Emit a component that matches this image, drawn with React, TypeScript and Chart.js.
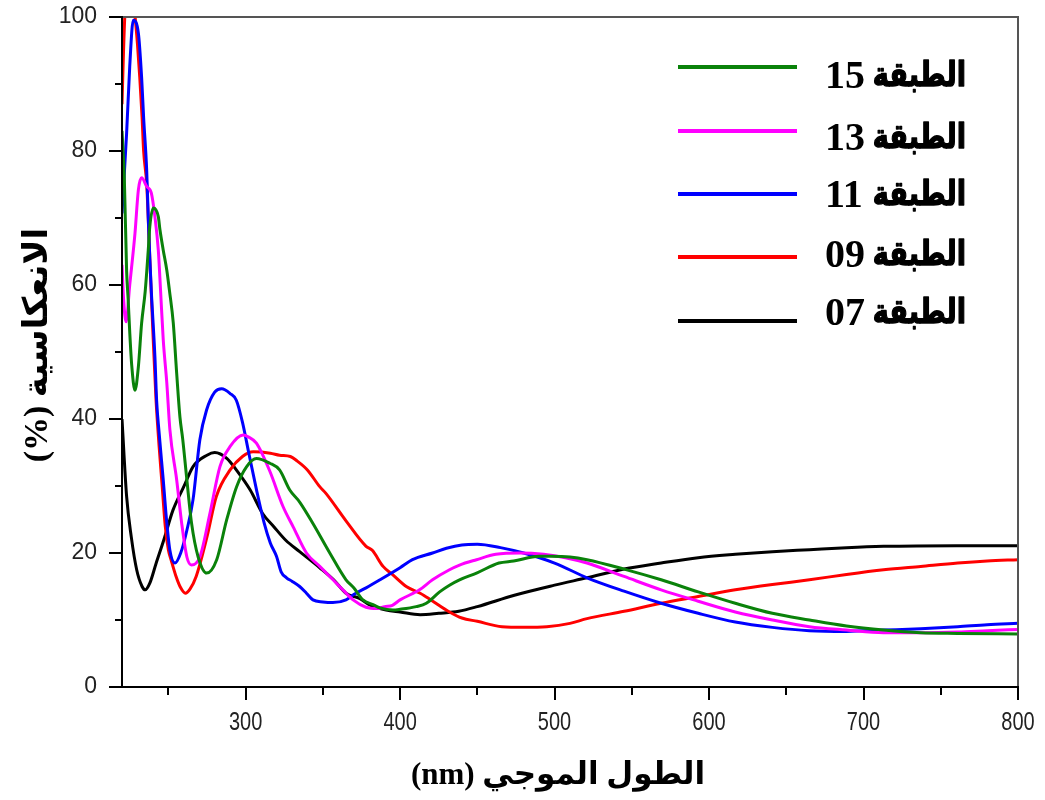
import React, { useEffect, useRef } from 'react';
import { Chart, registerables } from 'chart.js';

Chart.register(...registerables);

// ---------- data ----------
const wl07 = [220, 223, 226, 229.5, 233, 235, 238, 242, 247, 253, 260, 266, 275, 280, 288, 294, 303, 311, 318, 326, 335, 348, 357, 365, 374, 380, 391, 400, 413, 425, 438, 450, 474, 500, 521, 545, 569, 593, 617, 641, 665, 689, 713, 760, 800];
const r07 = [40, 28.4, 22.4, 17.5, 15, 14.5, 15.5, 18.4, 21.9, 26.4, 29.9, 32.9, 34.6, 35, 34.1, 32.4, 29.4, 25.9, 24, 21.9, 20.2, 17.8, 16, 14, 13.2, 12.3, 11.5, 11.2, 10.8, 11, 11.3, 12, 13.7, 15.2, 16.3, 17.6, 18.5, 19.3, 19.8, 20.2, 20.5, 20.8, 21, 21.1, 21.1];

const wl09 = [220, 221, 222, 224, 226, 228, 230, 231.5, 233, 234, 236, 238, 240, 242, 244, 246, 248, 250, 252, 255, 258, 261, 264, 268, 275, 281, 290, 298, 305, 316, 322, 329, 333, 340, 348, 352, 365, 378, 382, 389, 395, 404, 413, 420, 432, 440, 450, 466, 480, 495, 510, 521, 545, 569, 593, 617, 641, 665, 689, 713, 737, 761, 780, 800];
const r09 = [87, 95, 101, 104, 103, 101, 96, 91, 85, 80, 75, 64, 53, 43, 36, 30, 24, 20.5, 18.8, 16.5, 14.8, 14, 14.6, 16.5, 22.4, 28.4, 32.4, 34.4, 35.1, 34.9, 34.6, 34.4, 33.8, 32.4, 29.9, 28.9, 24.8, 21, 20.4, 18, 16.8, 15, 14, 13, 11.2, 10.3, 9.8, 9, 8.9, 9, 9.5, 10.2, 11.3, 12.5, 13.5, 14.5, 15.3, 16, 16.8, 17.5, 18, 18.5, 18.8, 19];

const wl11 = [220, 223, 225, 227.3, 230.6, 232.7, 234, 236, 237, 238, 239, 241.3, 242.4, 244, 246.7, 249, 251, 254.3, 258, 262, 266, 270.4, 274.7, 280, 284.5, 290, 294, 298, 302, 307, 312, 316, 320, 323, 326.5, 330, 335, 339.4, 343.6, 350, 356.5, 365, 370, 378, 387, 400, 408, 421, 430, 440, 450, 465, 480, 500, 521, 545, 569, 593, 617, 641, 665, 689, 713, 737, 761, 780, 800];
const r11 = [70.7, 82.7, 92.6, 99.5, 97.6, 91, 85, 77, 70, 64, 59, 49.3, 42.8, 38, 30.9, 24.5, 20.4, 18.5, 20, 23.4, 28, 36.9, 41.3, 44, 44.5, 43.8, 42.8, 39.5, 35, 29.5, 24.5, 21.5, 19.5, 17.2, 16.3, 15.8, 15, 14, 13, 12.7, 12.6, 13, 13.8, 14.8, 16, 17.8, 19, 20, 20.7, 21.2, 21.3, 20.8, 20, 18.5, 16.3, 14.3, 12.5, 11, 9.7, 8.9, 8.4, 8.3, 8.5, 8.7, 9, 9.3, 9.5];

const wl13 = [220, 221, 222.6, 225, 228.4, 230.6, 232.7, 236, 239, 241.3, 243.5, 245, 246.7, 249, 251, 255.4, 258.6, 262, 265, 270.4, 277, 283.4, 290, 298.4, 302, 307, 315.7, 324.3, 330.8, 339.4, 348, 356.6, 363, 369.6, 378, 385, 390, 395, 400, 412.6, 421, 432, 438.5, 449.5, 462, 478, 493, 507, 521, 545, 569, 593, 617, 641, 665, 689, 713, 737, 761, 780, 800];
const r13 = [63, 58, 54.5, 60, 67.7, 74.2, 76, 74.7, 73.7, 70.2, 65.2, 59, 51.8, 45.4, 38.4, 30.9, 24.5, 19.4, 18.2, 19.4, 26, 32.9, 35.9, 37.6, 37.3, 36.4, 32.2, 26.9, 23.9, 20, 18, 16, 14.5, 13, 11.9, 11.7, 12, 12.2, 13, 14.5, 16, 17.5, 18.2, 19, 19.8, 20, 19.8, 19.3, 18.5, 16.5, 14.5, 12.8, 11.2, 10, 9, 8.5, 8.1, 8.1, 8.2, 8.4, 8.6];

const wl15 = [220, 221.5, 223, 224, 225, 226.3, 228.4, 230.6, 232.7, 235, 237, 238, 240.3, 243.5, 244.6, 246.7, 249, 250.7, 253.2, 255.4, 257.5, 259.3, 262, 265, 269.3, 274.8, 281.3, 287.7, 294.2, 300.7, 307, 315.7, 322, 328.6, 335, 343.6, 354.5, 365, 370, 376, 382.5, 387, 395.4, 400, 410.5, 417, 425.6, 432, 438.5, 449.5, 464, 473.5, 490, 497, 510, 521, 545, 569, 593, 617, 641, 665, 689, 713, 737, 761, 800];
const r15 = [83, 76, 62, 57.8, 53, 48, 44.3, 47.8, 54.3, 59, 65.2, 68.7, 71.5, 70.2, 68.2, 65.2, 62.2, 59.2, 54.3, 46.8, 40.3, 37, 30.9, 24.5, 19.4, 17, 19, 24.9, 29.9, 32.9, 34.1, 33.4, 32.4, 29.4, 27.6, 24.4, 20, 16, 14.8, 13, 12.3, 11.8, 11.5, 11.6, 12, 12.5, 14.2, 15.2, 16, 17, 18.5, 18.8, 19.5, 19.5, 19.4, 19, 17.6, 16, 14.2, 12.5, 11, 10, 9.1, 8.5, 8.1, 8, 7.9];

const layerWord = 'الطبقة';
const layerNums = ['15', '13', '11', '09', '07'];
const seriesColors = ['#0a820a', '#ff00ff', '#0000ff', '#ff0000', '#000000'];
const xTitle = 'الطول الموجي (nm)';
const yTitle = 'الانعكاسية (%)';
const xTickLabels = [300, 400, 500, 600, 700, 800];
const xMinorTicks = [250, 300, 350, 400, 450, 500, 550, 600, 650, 700, 750, 800];
const yMinorTicks = [0, 10, 20, 30, 40, 50, 60, 70, 80, 90, 100];

const toPoints = (xs: number[], ys: number[]) => xs.map((x, i) => ({ x, y: ys[i] }));

const decorPlugin = {
  id: 'decor',
  afterDraw(chart: any) {
    const { ctx, chartArea: a, scales } = chart;
    const x = scales.x;
    const y = scales.y;
    ctx.save();
    // frame
    ctx.lineCap = 'square';
    ctx.strokeStyle = '#555555';
    ctx.lineWidth = 2;
    ctx.beginPath();
    ctx.moveTo(a.left, a.top);
    ctx.lineTo(a.right, a.top);
    ctx.lineTo(a.right, a.bottom);
    ctx.stroke();
    ctx.strokeStyle = '#000000';
    ctx.beginPath();
    ctx.moveTo(a.left, a.top);
    ctx.lineTo(a.left, a.bottom);
    ctx.lineTo(a.right, a.bottom);
    ctx.stroke();
    ctx.lineCap = 'butt';
    // ticks
    ctx.lineWidth = 2;
    for (const v of yMinorTicks) {
      const py = Math.round(y.getPixelForValue(v));
      const len = v % 20 === 0 ? 13 : 7;
      ctx.beginPath();
      ctx.moveTo(a.left - len, py);
      ctx.lineTo(a.left, py);
      ctx.stroke();
    }
    for (const v of xMinorTicks) {
      const px = Math.round(x.getPixelForValue(v));
      const len = v % 100 === 0 ? 13 : 8;
      ctx.beginPath();
      ctx.moveTo(px, a.bottom);
      ctx.lineTo(px, a.bottom + len);
      ctx.stroke();
    }
    // x tick labels (slightly condensed, tall digits)
    ctx.fillStyle = '#222';
    ctx.textAlign = 'center';
    ctx.textBaseline = 'middle';
    ctx.font = '25px "Liberation Sans", Arial, sans-serif';
    for (const v of xTickLabels) {
      const px = x.getPixelForValue(v);
      ctx.save();
      ctx.translate(px, 723);
      ctx.scale(0.8, 1);
      ctx.fillText(String(v), 0, 0);
      ctx.restore();
    }
    // axis titles
    ctx.fillStyle = '#000';
    ctx.direction = 'rtl';
    ctx.textAlign = 'center';
    ctx.textBaseline = 'middle';
    ctx.font = 'bold 31px "Liberation Serif", "DejaVu Sans", serif';
    ctx.fillText(xTitle, 558, 776);
    ctx.save();
    ctx.translate(38, 345);
    ctx.rotate(-Math.PI / 2);
    ctx.font = 'bold 34px "Liberation Serif", "DejaVu Sans", serif';
    ctx.fillText(yTitle, 0, 0);
    ctx.restore();
    // legend
    const lineY = [67, 131, 194, 257, 321];
    const textY = [88, 150, 207, 267, 325];
    ctx.textBaseline = 'alphabetic';
    layerNums.forEach((num, i) => {
      ctx.strokeStyle = seriesColors[i];
      ctx.lineWidth = 4;
      ctx.beginPath();
      ctx.moveTo(678, lineY[i]);
      ctx.lineTo(797, lineY[i]);
      ctx.stroke();
      ctx.fillStyle = '#000';
      ctx.save();
      ctx.translate(966, textY[i] - 2);
      ctx.scale(0.8, 1);
      ctx.direction = 'rtl';
      ctx.textAlign = 'right';
      ctx.font = 'bold 34px "DejaVu Sans", sans-serif';
      ctx.strokeStyle = '#000';
      ctx.lineWidth = 1.4;
      ctx.lineJoin = 'round';
      ctx.strokeText(layerWord, 0, 0);
      ctx.fillText(layerWord, 0, 0);
      ctx.restore();
      ctx.direction = 'ltr';
      ctx.textAlign = 'left';
      ctx.font = 'bold 40px "Liberation Serif", serif';
      ctx.fillText(num, 825, textY[i]);
    });
    ctx.restore();
  },
};

export default function App() {
  const ref = useRef<HTMLCanvasElement | null>(null);
  useEffect(() => {
    if (!ref.current) return;
    const sets = [
      { d: toPoints(wl15, r15), c: seriesColors[0], l: layerWord + ' ' + layerNums[0] },
      { d: toPoints(wl13, r13), c: seriesColors[1], l: layerWord + ' ' + layerNums[1] },
      { d: toPoints(wl11, r11), c: seriesColors[2], l: layerWord + ' ' + layerNums[2] },
      { d: toPoints(wl09, r09), c: seriesColors[3], l: layerWord + ' ' + layerNums[3] },
      { d: toPoints(wl07, r07), c: seriesColors[4], l: layerWord + ' ' + layerNums[4] },
    ];
    const chart = new Chart(ref.current, {
      type: 'line',
      data: {
        datasets: sets.map((s, i) => ({
          label: s.l,
          data: s.d,
          borderColor: s.c,
          backgroundColor: s.c,
          borderWidth: 3,
          pointRadius: 0,
          cubicInterpolationMode: 'monotone',
          fill: false,
          order: i,
        })),
      },
      options: {
        responsive: false,
        animation: false,
        events: [],
        layout: { padding: { left: 0, top: 17, right: 27, bottom: 0 } },
        plugins: { legend: { display: false }, tooltip: { enabled: false } },
        scales: {
          x: {
            type: 'linear',
            min: 220,
            max: 800,
            grid: { display: false, drawTicks: false },
            border: { display: false },
            ticks: { display: false, stepSize: 100, includeBounds: false },
            afterFit: (s: any) => { s.height = 113; s.paddingLeft = 0; s.paddingRight = 0; },
          },
          y: {
            type: 'linear',
            min: 0,
            max: 100,
            grid: { display: false, drawTicks: false },
            border: { display: false },
            ticks: {
              stepSize: 20,
              padding: 25,
              color: '#222',
              font: { family: '"Liberation Sans", Arial, sans-serif', size: 23 },
            },
            afterFit: (s: any) => { s.width = 122; s.paddingTop = 0; s.paddingBottom = 0; },
          },
        },
      },
      plugins: [decorPlugin],
    } as any);
    return () => chart.destroy();
  }, []);
  return (
    <div style={{ position: 'absolute', left: 0, top: 0, width: 1045, height: 800, background: '#fff' }}>
      <canvas ref={ref} width={1045} height={800} />
    </div>
  );
}
